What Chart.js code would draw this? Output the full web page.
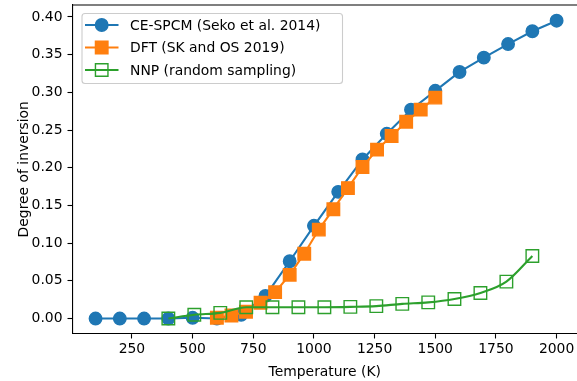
<!DOCTYPE html>
<html>
<head>
<meta charset="utf-8">
<script src="https://cdn.jsdelivr.net/npm/chart.js@4.4.0/dist/chart.umd.min.js"></script>
<style>
  html, body { margin: 0; padding: 0; background: #fff; }
</style>
</head>
<body>
<canvas id="myChart" width="577" height="381"></canvas>
<script>
// data
const ceT = [100, 200, 300, 400, 500, 600, 700, 800, 900, 1000, 1100, 1200, 1300, 1400, 1500, 1600, 1700, 1800, 1900, 2000];
const ceVal = [0, 0, 0, 0, 0.001, 0, 0.005, 0.030, 0.076, 0.123, 0.168, 0.211, 0.245, 0.277, 0.302, 0.327, 0.346, 0.364, 0.381, 0.395];

const dftT = [600, 660, 720, 780, 840, 900, 960, 1020, 1080, 1140, 1200, 1260, 1320, 1380, 1440, 1500];
const dftVal = [0.001, 0.004, 0.009, 0.021, 0.035, 0.058, 0.086, 0.118, 0.145, 0.173, 0.201, 0.224, 0.242, 0.261, 0.277, 0.293];

const nnpT = [400, 507, 614, 721, 829, 936, 1043, 1150, 1257, 1364, 1471, 1579, 1686, 1793, 1900];
const nnpVal = [0.000, 0.005, 0.0075, 0.015, 0.015, 0.015, 0.015, 0.0155, 0.0165, 0.0195, 0.0215, 0.026, 0.034, 0.049, 0.083];

const seriesNames = ['CE-SPCM (Seko et al. 2014)', 'DFT (SK and OS 2019)', 'NNP (random sampling)'];
const xTicks = [250, 500, 750, 1000, 1250, 1500, 1750, 2000];
const yTicks = [0, 0.05, 0.10, 0.15, 0.20, 0.25, 0.30, 0.35, 0.40];

const blue = '#1f77b4';
const orange = '#ff7f0e';
const green = '#2ca02c';
const font = { family: 'DejaVu Sans', size: 13.9 };

function toPoints(xs, ys) {
  return xs.map((x, i) => ({ x: x, y: ys[i] }));
}

// top spine (right spine is cut off in the reference)
const topSpine = {
  id: 'topSpine',
  afterDraw(chart) {
    const { ctx, chartArea } = chart;
    ctx.save();
    ctx.strokeStyle = '#000';
    ctx.lineWidth = 1.1;
    ctx.beginPath();
    ctx.moveTo(chartArea.left, chartArea.top);
    ctx.lineTo(chartArea.right, chartArea.top);
    ctx.stroke();
    ctx.restore();
  }
};

// matplotlib style legend: line with marker in the middle
const mplLegend = {
  id: 'mplLegend',
  afterDraw(chart) {
    const ctx = chart.ctx;
    ctx.save();
    ctx.beginPath();
    ctx.roundRect(82, 13.5, 260.5, 70, 3);
    ctx.fillStyle = 'rgba(255,255,255,0.8)';
    ctx.fill();
    ctx.strokeStyle = '#cccccc';
    ctx.lineWidth = 1.1;
    ctx.stroke();

    const rows = [25, 47.5, 70];
    chart.data.datasets.forEach((ds, i) => {
      const y = rows[i];
      ctx.strokeStyle = ds.borderColor;
      ctx.lineWidth = ds.borderWidth;
      ctx.beginPath();
      ctx.moveTo(85, y);
      ctx.lineTo(118.5, y);
      ctx.stroke();

      ctx.fillStyle = ds.pointBackgroundColor;
      ctx.strokeStyle = ds.pointBorderColor;
      ctx.lineWidth = ds.pointBorderWidth;
      Chart.helpers.drawPoint(ctx, {
        pointStyle: ds.pointStyle,
        radius: ds.pointRadius,
        borderWidth: ds.pointBorderWidth,
        rotation: 0
      }, 101.7, y);

      ctx.fillStyle = '#000';
      ctx.font = '13.9px "DejaVu Sans"';
      ctx.textBaseline = 'middle';
      ctx.textAlign = 'left';
      ctx.fillText(seriesNames[i], 130, y + 1);
    });
    ctx.restore();
  }
};

const config = {
  type: 'line',
  data: {
    datasets: [
      {
        label: seriesNames[0],
        data: toPoints(ceT, ceVal),
        borderColor: blue,
        borderWidth: 2.1,
        pointStyle: 'circle',
        pointRadius: 6.25,
        pointBorderWidth: 1.4,
        pointBackgroundColor: blue,
        pointBorderColor: blue,
        order: 3
      },
      {
        label: seriesNames[1],
        data: toPoints(dftT, dftVal),
        borderColor: orange,
        borderWidth: 2.1,
        pointStyle: 'rect',
        pointRadius: 8.84,
        pointBorderWidth: 1.4,
        pointBackgroundColor: orange,
        pointBorderColor: orange,
        order: 2
      },
      {
        label: seriesNames[2],
        data: toPoints(nnpT, nnpVal),
        borderColor: green,
        borderWidth: 2.1,
        cubicInterpolationMode: 'monotone',
        pointStyle: 'rect',
        pointRadius: 8.84,
        pointBorderWidth: 1.4,
        pointBackgroundColor: 'rgba(0,0,0,0)',
        pointBorderColor: green,
        order: 1
      }
    ]
  },
  options: {
    responsive: false,
    animation: false,
    events: [],
    layout: { autoPadding: false, padding: { top: 5, right: 0, bottom: 0, left: 0 } },
    plugins: {
      legend: { display: false },
      tooltip: { enabled: false }
    },
    scales: {
      x: {
        type: 'linear',
        min: 5,
        max: 2084,
        afterBuildTicks: s => { s.ticks = xTicks.map(v => ({ value: v })); },
        afterFit: s => { s.height = 47.5; s.paddingLeft = 0; s.paddingRight = 0; },
        grid: { drawOnChartArea: false, drawTicks: true, tickLength: 5, tickWidth: 1.1, tickColor: '#000' },
        border: { display: true, color: '#000', width: 1.1 },
        ticks: { font: font, color: '#000', padding: 3, maxRotation: 0, autoSkip: false, callback: v => String(v) },
        title: { display: true, text: 'Temperature (K)', font: font, color: '#000', padding: { top: 0, bottom: 0 } }
      },
      y: {
        type: 'linear',
        min: -0.0198,
        max: 0.4158,
        afterBuildTicks: s => { s.ticks = yTicks.map(v => ({ value: v })); },
        afterFit: s => { s.width = 72.5; s.paddingTop = 0; s.paddingBottom = 0; },
        grid: { drawOnChartArea: false, drawTicks: true, tickLength: 5, tickWidth: 1.1, tickColor: '#000' },
        border: { display: true, color: '#000', width: 1.1 },
        ticks: { font: font, color: '#000', padding: 5, autoSkip: false, callback: v => v.toFixed(2) },
        title: { display: true, text: 'Degree of inversion', font: font, color: '#000', padding: { top: 16, bottom: 0 } }
      }
    }
  },
  plugins: [topSpine, mplLegend]
};

const myChart = new Chart(document.getElementById('myChart'), config);
</script>
</body>
</html>
